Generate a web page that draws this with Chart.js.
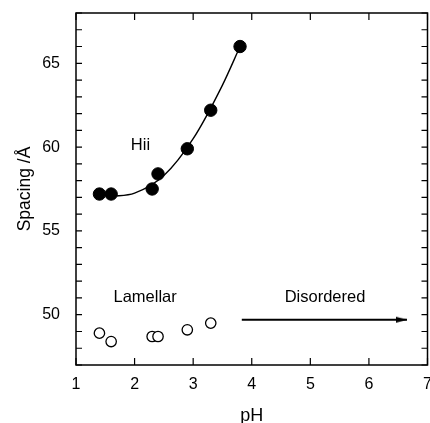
<!DOCTYPE html>
<html>
<head>
<meta charset="utf-8">
<script src="https://cdn.jsdelivr.net/npm/chart.js@4/dist/chart.umd.min.js"></script>
<style>
html, body { margin: 0; padding: 0; background: #fff; }
#wrap { width: 430px; height: 423px; }
</style>
</head>
<body>
<div id="wrap"><canvas id="spacingChart" width="430" height="423"></canvas></div>
<script>
// Hexagonal (Hii) phase, filled circles
const hiiPH = [1.4, 1.6, 2.3, 2.4, 2.9, 3.3, 3.8];
const hiiSpacing = [57.2, 57.2, 57.5, 58.4, 59.9, 62.2, 66.0];
// Lamellar phase, open circles
const lamPH = [1.4, 1.6, 2.3, 2.4, 2.9, 3.3];
const lamSpacing = [48.9, 48.4, 48.7, 48.7, 49.1, 49.5];
// smooth guide curve through the Hii points
const fitPH = [1.6, 2.0, 2.5, 3.0, 3.5, 3.8];
const fitSpacing = [57.05, 57.25, 58.3, 60.5, 63.7, 66.0];
// "Disordered" arrow
const arrowPH = [3.83, 6.65];
const arrowSpacing = [49.7, 49.7];
// phase labels
const labelText = ["Hii", "Lamellar", "Disordered"];
const labelPH = [2.1, 2.18, 5.25];
const labelSpacing = [60.1, 51.0, 51.0];

const toPoints = (xs, ys) => xs.map((v, i) => ({ x: v, y: ys[i] }));

Chart.defaults.font.family = '"Liberation Sans", Arial, Helvetica, sans-serif';
Chart.defaults.color = "#000";

// slim arrow head used as point style (tip sits on the data point)
const arrowHead = document.createElement("canvas");
arrowHead.width = 24;
arrowHead.height = 8;
(function() {
    const c = arrowHead.getContext("2d");
    c.fillStyle = "#000";
    c.beginPath();
    c.moveTo(1, 1);
    c.lineTo(12, 4);
    c.lineTo(1, 7);
    c.closePath();
    c.fill();
})();

// frame, inward ticks on all sides, phase labels
const framePlugin = {
    id: "framePlugin",
    afterDatasetsDraw(chart) {
        const { ctx, chartArea: a, scales: { x, y } } = chart;
        ctx.save();
        ctx.strokeStyle = "#000";
        ctx.lineWidth = 1.5;
        ctx.strokeRect(a.left, a.top, a.right - a.left, a.bottom - a.top);

        ctx.lineWidth = 1.2;
        ctx.beginPath();
        x.ticks.forEach(t => {
            const px = x.getPixelForValue(t.value);
            ctx.moveTo(px, a.bottom);
            ctx.lineTo(px, a.bottom - 7);
            ctx.moveTo(px, a.top);
            ctx.lineTo(px, a.top + 7);
        });
        y.ticks.forEach(t => {
            const py = y.getPixelForValue(t.value);
            ctx.moveTo(a.left, py);
            ctx.lineTo(a.left + 6, py);
            ctx.moveTo(a.right, py);
            ctx.lineTo(a.right - 6, py);
        });
        ctx.stroke();

        ctx.fillStyle = "#000";
        ctx.font = '16.5px "Liberation Sans", Arial, sans-serif';
        ctx.textAlign = "center";
        ctx.textBaseline = "middle";
        labelText.forEach((txt, i) => {
            ctx.fillText(txt, x.getPixelForValue(labelPH[i]), y.getPixelForValue(labelSpacing[i]));
        });
        ctx.restore();
    }
};

const canvas = document.getElementById("spacingChart");
new Chart(canvas, {
    type: "scatter",
    data: {
        datasets: [{
            label: "fit",
            data: toPoints(fitPH, fitSpacing),
            showLine: true,
            borderColor: "#000",
            borderWidth: 1.4,
            pointRadius: 0,
            cubicInterpolationMode: "monotone",
        }, {
            label: "Hii",
            data: toPoints(hiiPH, hiiSpacing),
            backgroundColor: "#000",
            borderColor: "#000",
            borderWidth: 1,
            pointRadius: 6.2,
        }, {
            label: "Lamellar",
            data: toPoints(lamPH, lamSpacing),
            backgroundColor: "#fff",
            borderColor: "#000",
            borderWidth: 1.3,
            pointRadius: 5.2,
        }, {
            label: "Disordered",
            data: toPoints(arrowPH, arrowSpacing),
            showLine: true,
            borderColor: "#000",
            borderWidth: 2,
            pointStyle: [false, arrowHead],
            pointRadius: [0, 5],
        }],
    },
    options: {
        responsive: false,
        animation: false,
        layout: { autoPadding: false, padding: { top: 13, right: 2.5, left: 0, bottom: 0 } },
        plugins: {
            legend: { display: false },
            tooltip: { enabled: false },
        },
        scales: {
            x: {
                type: "linear",
                min: 1,
                max: 7,
                grid: { display: false, drawTicks: false },
                border: { display: false },
                ticks: { stepSize: 1, padding: 10, font: { size: 16 }, color: "#000" },
                title: {
                    display: true,
                    text: "pH",
                    color: "#000",
                    font: { size: 18, lineHeight: 1 },
                    padding: { top: 0, bottom: -2 },
                },
                afterFit(s) {
                    s.paddingLeft = 0;
                    s.paddingRight = 0;
                    s.height = 58;
                },
            },
            y: {
                type: "linear",
                min: 47,
                max: 68,
                grid: { display: false, drawTicks: false },
                border: { display: false },
                ticks: {
                    stepSize: 1,
                    maxTicksLimit: 40,
                    autoSkip: false,
                    padding: 16,
                    font: { size: 16 },
                    color: "#000",
                    callback: v => (v % 5 === 0 ? v : ""),
                },
                title: {
                    display: true,
                    text: "Spacing /Å",
                    color: "#000",
                    font: { size: 17.5, lineHeight: 1 },
                    padding: { top: 16.5, bottom: 0 },
                },
                afterFit(s) {
                    s.width = 76;
                    s.paddingTop = 0;
                    s.paddingBottom = 0;
                },
            },
        },
    },
    plugins: [framePlugin],
});
</script>
</body>
</html>
